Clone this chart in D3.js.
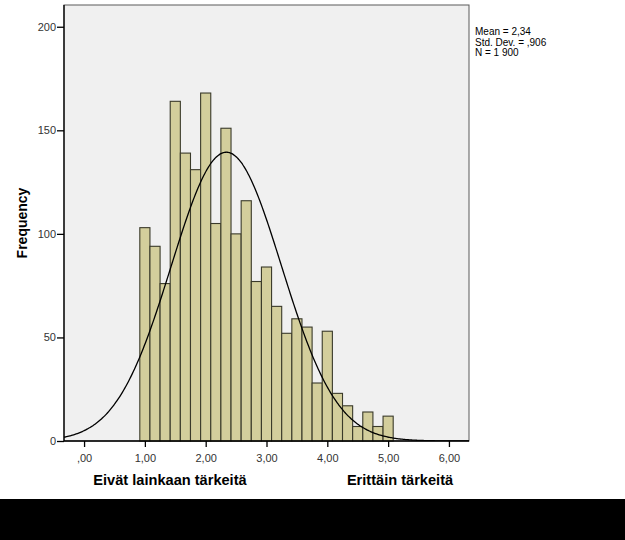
<!DOCTYPE html>
<html><head><meta charset="utf-8">
<script src="https://cdn.jsdelivr.net/npm/d3@7"></script>
<style>
html,body{margin:0;padding:0;background:#fff;}
svg{display:block;font-family:Arial,"Liberation Sans",sans-serif;}
</style></head>
<body>
<svg id="c" width="625" height="540"></svg>
<script>
// bin centers (values 1 .. 5 in steps of 1/6) and frequencies
const binCenters = [1.0,1.1667,1.3333,1.5,1.6667,1.8333,2.0,2.1667,2.3333,2.5,2.6667,2.8333,3.0,3.1667,3.3333,3.5,3.6667,3.8333,4.0,4.1667,4.3333,4.5,4.6667,4.8333,5.0];
const frequencies = [103,94,76,164,139,131,168,105,151,100,116,77,84,65,52,59,55,28,53,23,17,7,14,7,12];
const binWidth = 1/6;
const xTicks = [0,1,2,3,4,5,6];
const xTickLabels = [",00","1,00","2,00","3,00","4,00","5,00","6,00"];
const yTicks = [0,50,100,150,200];
const stats = {mean:2.34, sd:0.906, n:1900};
const statLabels = ["Mean = 2,34","Std. Dev. = ,906","N = 1 900"];

const svg = d3.select("#c");
const L=64, R=469, T=5, B=441;
const x = d3.scaleLinear().domain([-0.33,6.33]).range([L,R]);
const y = d3.scaleLinear().domain([0,210.5]).range([B,T]);

// background band at bottom
svg.append("rect").attr("x",0).attr("y",499).attr("width",625).attr("height",41).attr("fill","#000");

// plot background
svg.append("rect").attr("x",L).attr("y",T).attr("width",R-L).attr("height",B-T)
  .attr("fill","#f0f0f0").attr("stroke","#5a5a5a").attr("stroke-width",1);

const clip = svg.append("clipPath").attr("id","pc").append("rect")
  .attr("x",L).attr("y",T).attr("width",R-L).attr("height",B-T);

// bars
svg.append("g").selectAll("rect").data(binCenters).join("rect")
  .attr("x",d=>x(d-binWidth/2))
  .attr("width",d=>x(d+binWidth/2)-x(d-binWidth/2))
  .attr("y",(d,i)=>y(frequencies[i]))
  .attr("height",(d,i)=>B-y(frequencies[i]))
  .attr("fill","#d3ce9c").attr("stroke","#3a3a2a").attr("stroke-width",1.1);

// normal curve from displayed statistics
const pts = d3.range(-0.33,6.34,0.02).map(v=>{
  const z=(v-stats.mean)/stats.sd;
  return [v, stats.n*binWidth/(stats.sd*Math.sqrt(2*Math.PI))*Math.exp(-0.5*z*z)];
});
svg.append("path").attr("clip-path","url(#pc)")
  .attr("d",d3.line().x(d=>x(d[0])).y(d=>y(d[1])).curve(d3.curveBasis)(pts))
  .attr("fill","none").attr("stroke","#000").attr("stroke-width",1.3);

// axes
const xa = svg.append("g").attr("transform",`translate(0,${B})`)
  .call(d3.axisBottom(x).tickValues(xTicks).tickFormat((d,i)=>xTickLabels[i]).tickSize(6).tickSizeOuter(0));
const ya = svg.append("g").attr("transform",`translate(${L},0)`)
  .call(d3.axisLeft(y).tickValues(yTicks).tickSize(7).tickSizeOuter(0).tickPadding(1));
[xa,ya].forEach(a=>{
  a.select(".domain").attr("stroke","#000").attr("stroke-width",1.3);
  a.selectAll(".tick line").attr("stroke","#000").attr("stroke-width",1.3);
  a.selectAll(".tick text").attr("fill","#333").attr("font-size",11).attr("font-family","Arial, Liberation Sans, sans-serif");
});
ya.select(".domain").attr("d",`M0,${T}V${B}`);
xa.select(".domain").attr("d",`M${L},0H${R}`);
xa.selectAll(".tick text").attr("dy","1.1em");

// y title
svg.append("text").attr("transform","translate(27,223) rotate(-90)")
  .attr("text-anchor","middle").attr("font-weight","bold").attr("font-size",14)
  .attr("fill","#000").text("Frequency");

// x labels
svg.append("text").attr("x",170).attr("y",485).attr("text-anchor","middle")
  .attr("font-weight","bold").attr("font-size",14.6).text("Eivät lainkaan tärkeitä");
svg.append("text").attr("x",400).attr("y",485).attr("text-anchor","middle")
  .attr("font-weight","bold").attr("font-size",14.6).text("Erittäin tärkeitä");

// stats legend
svg.append("g").selectAll("text").data(statLabels).join("text")
  .attr("x",475).attr("y",(d,i)=>35+i*10.5).attr("font-size",10).attr("fill","#000").text(d=>d);
</script>
</body></html>
